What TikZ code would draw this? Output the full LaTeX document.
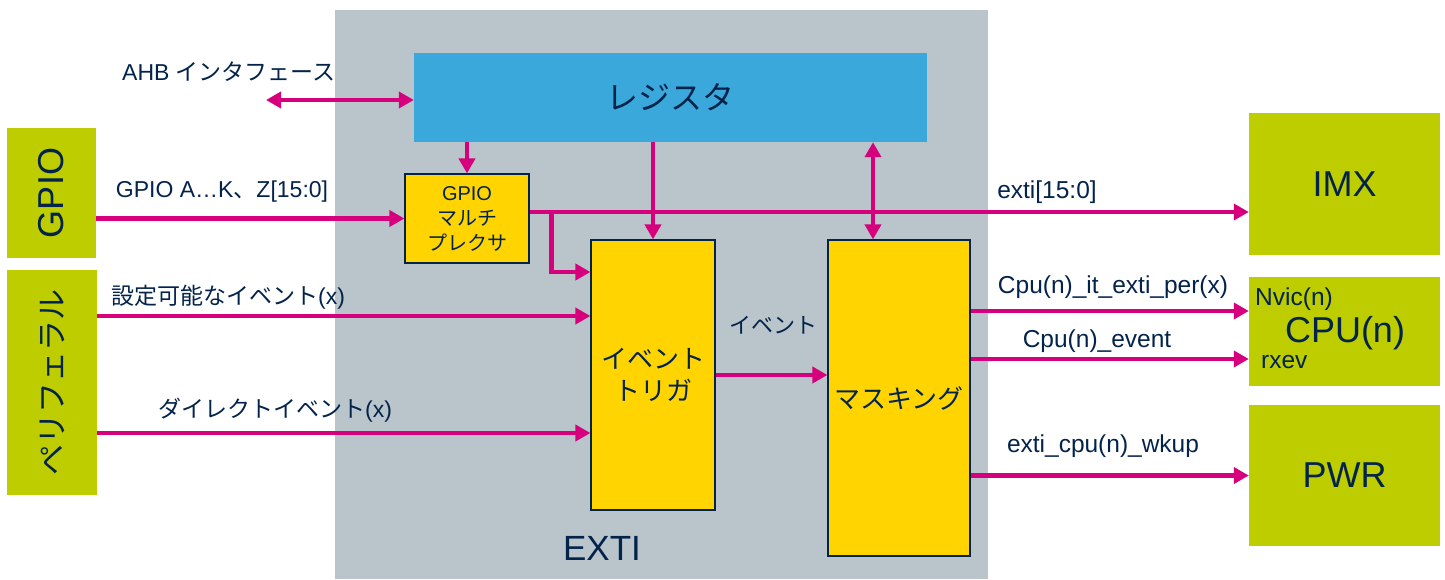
\documentclass[tikz,border=0pt]{standalone}
\usepackage{fontspec}
\setmainfont{Liberation Sans}
\newfontfamily\jpfont{Noto Sans CJK JP}
\newcommand{\jp}[1]{{\jpfont #1}}
\usetikzlibrary{arrows.meta,positioning}
\definecolor{extigray}{HTML}{B9C4CB}
\definecolor{regblue}{HTML}{3AA8DB}
\definecolor{blkyellow}{HTML}{FFD400}
\definecolor{extgreen}{HTML}{BDCD00}
\definecolor{sigpink}{HTML}{D6007D}
\definecolor{txtnavy}{HTML}{03234B}

\begin{document}
\begin{tikzpicture}[x=1pt,y=-1pt,>={Triangle[length=15pt,width=16pt]},
    sig/.style={draw=sigpink,line width=4.5pt},
    ybox/.style={draw=txtnavy,line width=1.2pt,fill=blkyellow,text=txtnavy,align=center,inner sep=0pt},
    gbox/.style={fill=extgreen,text=txtnavy,inner sep=0pt},
    lbl/.style={text=txtnavy,inner sep=0pt,font=\fontsize{24.5}{28}\selectfont},
    jlbl/.style={lbl,font=\fontsize{23}{27}\selectfont}]
    \useasboundingbox (0,0) rectangle (1445,579);
    % EXTI block
    \node[fill=extigray,minimum width=653pt,minimum height=569pt,inner sep=0pt] (exti) at (661.5,294.5) {};
    \node[lbl,font=\fontsize{35}{40}\selectfont] (extilbl) at (602,548) {EXTI};
    \node[fill=regblue,text=txtnavy,minimum width=513pt,minimum height=89pt,font=\jpfont\fontsize{32}{36}\selectfont] (reg) at (670.5,97.5) {レジスタ};
    \node[ybox,minimum width=124pt,minimum height=89pt,font=\fontsize{20}{25}\selectfont] (mux) at (467,218.5) {GPIO\\\jp{マルチ}\\\jp{プレクサ}};
    \node[ybox,minimum width=124pt,minimum height=270pt,font=\jpfont\fontsize{26}{32}\selectfont] (trig) at (653,375) {イベント\\トリガ};
    \node[ybox,minimum width=142pt,minimum height=316pt,font=\jpfont\fontsize{26}{32}\selectfont] (mask) at (899,398) {マスキング};
    % outside blocks
    \node[gbox,minimum width=89pt,minimum height=130pt] (gpio) at (51.5,193) {};
    \node[text=txtnavy,rotate=90,font=\fontsize{36}{40}\selectfont] (gpiolbl) at (gpio.center) {GPIO};
    \node[gbox,minimum width=90pt,minimum height=225pt] (peri) at (52,382.5) {};
    \node[text=txtnavy,rotate=90,font=\jpfont\fontsize{31}{36}\selectfont] (perilbl) at (peri.center) {ペリフェラル};
    \node[gbox,minimum width=191pt,minimum height=142pt,font=\fontsize{36}{40}\selectfont] (imx) at (1344.5,184) {IMX};
    \node[gbox,minimum width=191pt,minimum height=109pt] (cpu) at (1344.5,331.5) {};
    \node[lbl,font=\fontsize{36}{40}\selectfont] (cpulbl) at (1345,333) {CPU(n)};
    \node[lbl,anchor=west] (nvic) at (1255,299) {Nvic(n)};
    \node[lbl,anchor=west] (rxev) at (1261,362) {rxev};
    \node[gbox,minimum width=191pt,minimum height=141pt,font=\fontsize{36}{40}\selectfont] (pwr) at (1344.5,475.5) {PWR};
    % signals
    \coordinate (ahb) at (266,100);
    \draw[sig,<->] (ahb) -- (ahb -| reg.west);
    \node[jlbl] (ahblbl) at (229,72) {AHB \jp{インタフェース}};
    \draw[sig,->] (gpio.east |- mux.west) -- (mux.west);
    \node[jlbl] (gpiosig) at (222,192) {GPIO A…K\jp{、}Z[15:0]};
    \draw[sig,->] (reg.south -| mux.north) -- (mux.north);
    \draw[sig,->] (reg.south -| trig.north) -- (trig.north);
    \draw[sig,<->] ([xshift=-26pt]mask.north) coordinate (mtop) -- (mtop |- reg.south);
    \draw[sig,->] ([yshift=6.5pt]mux.east) coordinate (mo) -- (mo -| imx.west);
    \node[lbl] (extisig) at (1047,192) {exti[15:0]};
    \draw[sig,->] ([xshift=22pt]mo) |- ([yshift=103pt]trig.west);
    \draw[sig,->] ([yshift=66.5pt]peri.east) coordinate (p1) -- (p1 -| trig.west);
    \node[jlbl] (cfglbl) at (228,297) {\jp{設定可能なイベント}(x)};
    \draw[sig,->] ([yshift=-50.5pt]peri.east) coordinate (p2) -- (p2 -| trig.west);
    \node[jlbl] (dirlbl) at (275,410) {\jp{ダイレクトイベント}(x)};
    \draw[sig,->] (trig.east) -- (trig.east -| mask.west);
    \node[lbl,font=\jpfont\fontsize{22}{26}\selectfont] (evlbl) at (773,325) {イベント};
    \coordinate (c1) at ([yshift=20.5pt]cpu.west);
    \coordinate (c2) at ([yshift=-27.5pt]cpu.west);
    \draw[sig,->] (mask.east |- c1) -- (c1);
    \node[lbl] (itlbl) at (1113,287) {Cpu(n)\_it\_exti\_per(x)};
    \draw[sig,->] (mask.east |- c2) -- (c2);
    \node[lbl] (evtlbl) at (1097,341) {Cpu(n)\_event};
    \draw[sig,->] (mask.east |- pwr.west) -- (pwr.west);
    \node[lbl] (wklbl) at (1103,446) {exti\_cpu(n)\_wkup};
\end{tikzpicture}
\end{document}
